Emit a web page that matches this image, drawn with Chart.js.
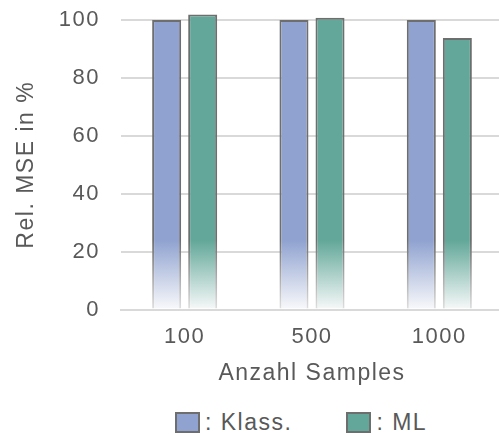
<!DOCTYPE html>
<html lang="de">
<head>
<meta charset="utf-8">
<title>Rel. MSE</title>
<script src="https://cdn.jsdelivr.net/npm/chart.js@4.4.1/dist/chart.umd.min.js"></script>
<style>
  html, body { margin: 0; padding: 0; background: #fff; }
  .wrap { position: relative; width: 499px; height: 435px; overflow: hidden; }
  #mseChart { position: absolute; left: 0; top: 0; }
  .legend {
    position: absolute; left: 175px; top: 409px;
    display: flex; align-items: center; gap: 54px;
    font: 23px "Liberation Sans", Arial, sans-serif; letter-spacing: 1.5px; color: #595959;
  }
  .legend .item { display: flex; align-items: center; }
  .legend .box { width: 25px; height: 21px; box-sizing: border-box; border: 2px solid #6e6e6e; margin-right: 5px; }
</style>
</head>
<body>
<div class="wrap">
  <canvas id="mseChart" width="503" height="391"></canvas>
  <div class="legend" id="legend"></div>
</div>
<script>
  // ----- Daten -----
  const sampleSizes = ['100', '500', '1000'];
  const klassValues = [100, 100, 100];
  const mlValues    = [101.9, 100.8, 93.8];
  const seriesNames = ['Klass.', 'ML'];
  const yTicks      = [0, 20, 40, 60, 80, 100];

  // ----- Stil -----
  const TEXT = '#595959';
  const GRID = '#d9d9d9';
  const EDGE = [110, 110, 110];
  const FONT = '"Liberation Sans", Arial, sans-serif';
  const LETTER_SPACING = '1.5px';
  const colors = { klass: [143, 162, 208], ml: [98, 167, 153] };

  // Balken laufen unten nach Weiss aus (ab diesem Wert abwaerts)
  const FADE_FROM = 24;

  function mix(rgb, t) {
    // t = 0 -> Farbe, t = 1 -> fast weiss
    const c = rgb.map((v) => Math.round(v + (252 - v) * t));
    return `rgb(${c[0]}, ${c[1]}, ${c[2]})`;
  }

  function fade(context, rgb, endT) {
    const chart = context.chart;
    const area = chart.chartArea;
    if (!area) return mix(rgb, 0);
    const y = chart.scales.y;
    const top = y.getPixelForValue(FADE_FROM);
    const bottom = y.getPixelForValue(0);
    const g = chart.ctx.createLinearGradient(0, top, 0, bottom);
    g.addColorStop(0, mix(rgb, 0));
    g.addColorStop(1, mix(rgb, endT));
    return g;
  }

  const spacing = {
    id: 'letterSpacing',
    beforeUpdate(chart) { chart.ctx.letterSpacing = LETTER_SPACING; },
    beforeDraw(chart) { chart.ctx.letterSpacing = LETTER_SPACING; }
  };

  function makeDataset(label, data, rgb) {
    return {
      label,
      data,
      backgroundColor: (c) => fade(c, rgb, 0.97),
      borderColor: (c) => fade(c, EDGE, 0.8),
      borderWidth: 2,
      borderSkipped: 'start',
      categoryPercentage: 0.566,
      barPercentage: 0.806,
      clip: false
    };
  }

  const chart = new Chart(document.getElementById('mseChart'), {
    type: 'bar',
    data: {
      labels: sampleSizes,
      datasets: [
        makeDataset(seriesNames[0], klassValues, colors.klass),
        makeDataset(seriesNames[1], mlValues, colors.ml)
      ]
    },
    options: {
      responsive: false,
      animation: false,
      layout: { padding: { top: 20, right: 0, bottom: 0, left: 0 } },
      plugins: {
        legend: { display: false },
        tooltip: { enabled: false }
      },
      scales: {
        x: {
          afterFit: (scale) => { scale.height = 81.5; },
          grid: { display: false, drawTicks: false },
          border: { display: true, color: GRID, width: 2, z: 1 },
          ticks: { color: TEXT, font: { family: FONT, size: 22 }, padding: 14 },
          title: {
            display: true, text: 'Anzahl Samples', color: TEXT,
            font: { family: FONT, size: 23 }, padding: { top: 8, bottom: 4 }
          }
        },
        y: {
          min: 0,
          max: 100,
          afterBuildTicks: (scale) => { scale.ticks = yTicks.map((v) => ({ value: v })); },
          afterFit: (scale) => {
            scale.width = 121;
            // Randabstand kommt allein aus layout.padding
            scale.paddingTop = 0;
            scale.paddingBottom = 0;
          },
          grid: { color: GRID, lineWidth: 2, drawTicks: false },
          border: { display: false },
          ticks: { color: TEXT, font: { family: FONT, size: 22 }, padding: 21 },
          title: {
            display: true, text: 'Rel. MSE in %', color: TEXT,
            font: { family: FONT, size: 23 }, padding: { top: 13, bottom: 0 }
          }
        }
      }
    },
    plugins: [spacing]
  });

  // ----- Legende -----
  const legend = document.getElementById('legend');
  [colors.klass, colors.ml].forEach((rgb, i) => {
    const item = document.createElement('div');
    item.className = 'item';
    const box = document.createElement('span');
    box.className = 'box';
    box.style.background = mix(rgb, 0);
    const txt = document.createElement('span');
    txt.textContent = ': ' + seriesNames[i];
    item.appendChild(box);
    item.appendChild(txt);
    legend.appendChild(item);
  });
</script>
</body>
</html>
